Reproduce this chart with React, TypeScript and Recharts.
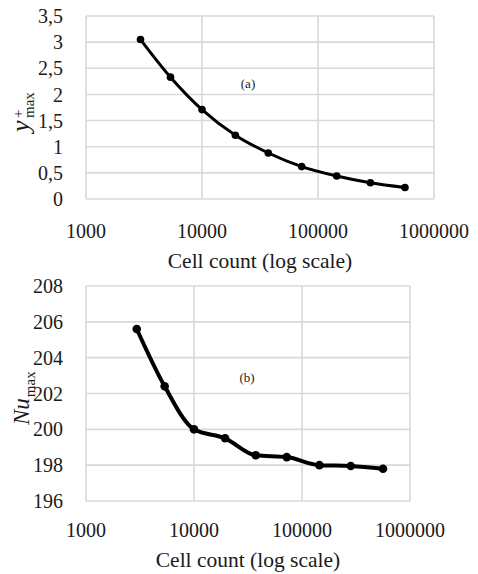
import { LineChart, Line, XAxis, YAxis, CartesianGrid } from 'recharts'

const cellCounts = [2950, 5350, 10000, 19400, 37300, 72300, 145000, 283000, 562000]
const yPlusMax = [3.05, 2.33, 1.71, 1.22, 0.88, 0.62, 0.44, 0.31, 0.22]
const nuMax = [205.6, 202.4, 200.0, 199.5, 198.55, 198.45, 198.0, 197.95, 197.8]

const xTicks = [1000, 10000, 100000, 1000000]
const yPlusTicks = [0, 0.5, 1, 1.5, 2, 2.5, 3, 3.5]
const nuTicks = [196, 198, 200, 202, 204, 206, 208]

const topData = cellCounts.map((cells, i) => ({ cells, value: yPlusMax[i] }))
const bottomData = cellCounts.map((cells, i) => ({ cells, value: nuMax[i] }))

const FONT = 'Liberation Serif'
const TEXT = '#1a1a1a'
const GRID = '#d9d9d9'

const tickStyle = { fill: TEXT, fontSize: 20, fontFamily: FONT }

function Panel({
  data,
  height,
  top,
  right,
  xMargin,
  xHeight,
  titleOffset,
  yTicks,
  lineWidth,
  dotR,
}: {
  data: { cells: number; value: number }[]
  height: number
  top: number
  right: number
  xMargin: number
  xHeight: number
  titleOffset: number
  yTicks: number[]
  lineWidth: number
  dotR: number
}) {
  return (
    <LineChart width={478} height={height} data={data} margin={{ top, right, bottom: 0, left: 0 }}>
      <CartesianGrid stroke={GRID} strokeWidth={1.6} />
      <XAxis
        dataKey="cells"
        type="number"
        scale="log"
        domain={[1000, 1000000]}
        ticks={xTicks}
        tickFormatter={(v: number) => String(v)}
        axisLine={false}
        tickLine={false}
        tickSize={0}
        tickMargin={xMargin}
        height={xHeight}
        tick={tickStyle}
        interval={0}
        label={{
          value: 'Cell count (log scale)',
          position: 'insideBottom',
          offset: titleOffset,
          fill: TEXT,
          fontSize: 21.5,
          fontFamily: FONT,
        }}
      />
      <YAxis
        type="number"
        domain={[yTicks[0], yTicks[yTicks.length - 1]]}
        ticks={yTicks}
        tickFormatter={(v: number) => String(v).replace('.', ',')}
        axisLine={false}
        tickLine={false}
        tickSize={0}
        tickMargin={23}
        width={86}
        tick={tickStyle}
        interval={0}
      />
      <Line
        dataKey="value"
        type="monotone"
        stroke="#000"
        strokeWidth={lineWidth}
        dot={{ r: dotR, fill: '#000', stroke: '#000', strokeWidth: 0 }}
        isAnimationActive={false}
      />
    </LineChart>
  )
}

export default function App() {
  return (
    <div style={{ position: 'absolute', left: 0, top: 0, width: 478, height: 574, background: '#fff' }}>
      <div style={{ position: 'absolute', left: 0, top: 0 }}>
        <Panel
          data={topData}
          height={280}
          top={16}
          right={44}
          xMargin={25}
          xHeight={81}
          titleOffset={12}
          yTicks={yPlusTicks}
          lineWidth={3}
          dotR={3.8}
        />
      </div>
      <div style={{ position: 'absolute', left: 0, top: 270 }}>
        <Panel
          data={bottomData}
          height={304}
          top={16}
          right={68}
          xMargin={22}
          xHeight={73}
          titleOffset={7}
          yTicks={nuTicks}
          lineWidth={4}
          dotR={4.3}
        />
      </div>
      <svg
        width={478}
        height={574}
        style={{ position: 'absolute', left: 0, top: 0, pointerEvents: 'none' }}
      >
        <g transform="translate(29,132) rotate(-90)" fill={TEXT} fontFamily={FONT}>
          <text x={0} y={0} fontSize={26} fontStyle="italic">y</text>
          <text x={14} y={-6} fontSize={15}>+</text>
          <text x={14} y={5} fontSize={15}>max</text>
        </g>
        <g transform="translate(29,425) rotate(-90)" fill={TEXT} fontFamily={FONT}>
          <text x={0} y={0} fontSize={23}>
            <tspan fontStyle="italic">Nu</tspan>
            <tspan dx={1} dy={6} fontSize={15}>max</tspan>
          </text>
        </g>
        <text x={248} y={88} textAnchor="middle" fontSize={13} fontFamily={FONT} fill={TEXT}>(a)</text>
        <text x={247} y={382} textAnchor="middle" fontSize={13} fontFamily={FONT} fill={TEXT}>(b)</text>
      </svg>
    </div>
  )
}
